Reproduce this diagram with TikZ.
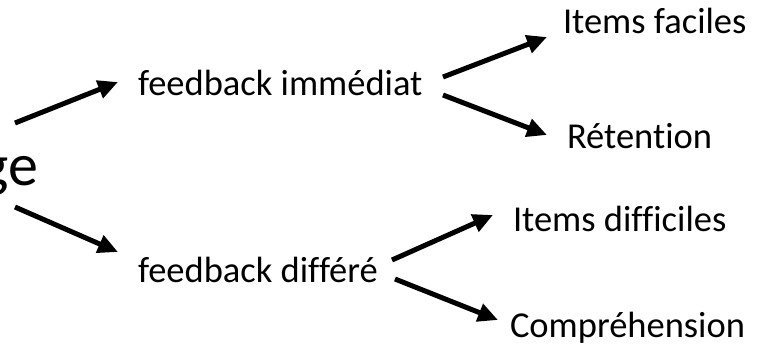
\documentclass[tikz,border=0pt]{standalone}
\usepackage{fontspec}
\setmainfont[Ligatures=NoCommon]{Carlito}
\usepackage{tikz}
\usetikzlibrary{arrows.meta}
\usetikzlibrary{positioning}

\begin{document}
\begin{tikzpicture}[x=1pt, y=-1pt,
  every node/.style={inner sep=0pt, outer sep=0pt, anchor=base west, font=\fontsize{36.5}{40}\selectfont},
  arr/.style={line width=5pt, -{Triangle[length=20pt, width=18pt]}}]
\useasboundingbox (0,0) rectangle (767,349);
\node[anchor=base east, font=\fontsize{60}{66}\selectfont] (GE) at (38,185) {ge};
\node (IMM) at (138,95) {feedback immédiat};
\node (DIF) at (138,282) {feedback différé};
\node (FAC) at (563,33) {Items faciles};
\node (RET) at (567,148) {Rétention};
\node (DIFF) at (513,231) {Items difficiles};
\node (COMP) at (510,337) {Compréhension};

\draw[arr] ([shift={(-23,-62)}]GE.base east) -- ([shift={(-20,-13)}]IMM.base west);
\draw[arr] ([shift={(-23,22)}]GE.base east) -- ([shift={(-20,-30)}]DIF.base west);
\draw[arr] ([shift={(305,-18)}]IMM.base west) -- ([shift={(-16,4)}]FAC.base west);
\draw[arr] ([shift={(305,0)}]IMM.base west) -- ([shift={(-20,-13)}]RET.base west);
\draw[arr] ([shift={(254,-22)}]DIF.base west) -- ([shift={(-20,-16)}]DIFF.base west);
\draw[arr] ([shift={(257,-3)}]DIF.base west) -- ([shift={(-12,-17)}]COMP.base west);
\end{tikzpicture}
\end{document}
